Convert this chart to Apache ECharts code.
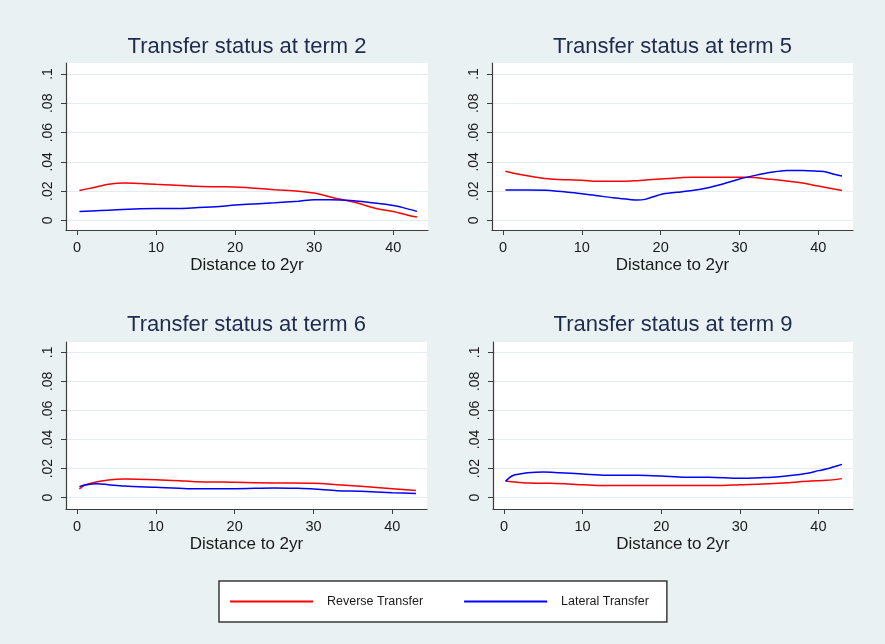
<!DOCTYPE html>
<html>
<head>
<meta charset="utf-8">
<script src="https://cdn.jsdelivr.net/npm/echarts@6/dist/echarts.min.js"></script>
<style>
  html, body { margin: 0; padding: 0; background: #ffffff; }
  #chart { width: 885px; height: 644px; }
</style>
</head>
<body>
<div id="chart"></div>
<script>
// ---- data ----
const panelTitles = ['Transfer status at term 2', 'Transfer status at term 5', 'Transfer status at term 6', 'Transfer status at term 9'];
const seriesNames = ['Reverse Transfer', 'Lateral Transfer'];
const xAxisTitle = 'Distance to 2yr';
const xTicks = [0, 10, 20, 30, 40];
const yTicks = [0, 0.02, 0.04, 0.06, 0.08, 0.1];
const yTickLabels = ['0', '.02', '.04', '.06', '.08', '.1'];

const reverseT2 = [[0.3,0.0205],[2,0.0224],[4,0.0247],[6,0.0255],[8,0.0252],[10,0.0247],[12,0.0242],[15,0.0233],[18,0.0230],[20,0.0228],[22,0.0222],[25,0.0210],[28,0.0200],[30,0.0187],[33,0.0148],[35,0.0126],[38,0.0080],[40,0.0062],[42,0.0034],[43,0.0023]];
const lateralT2 = [[0.3,0.0062],[3,0.0068],[5,0.0073],[8,0.0080],[10,0.0082],[13,0.0082],[15,0.0087],[18,0.0096],[20,0.0105],[23,0.0115],[25,0.0121],[28,0.0132],[30,0.0142],[32,0.0142],[35,0.0135],[37,0.0123],[40,0.0103],[41,0.0091],[43,0.0062]];

const reverseT5 = [[0.3,0.0336],[2,0.0315],[4,0.0297],[6,0.0283],[10,0.0274],[12,0.0267],[15,0.0267],[17,0.0272],[20,0.0283],[24,0.0295],[28,0.0295],[31,0.0295],[34,0.0281],[36,0.0269],[38,0.0256],[40,0.0235],[43,0.0205]];
const lateralT5 = [[0.3,0.0208],[3,0.0208],[6,0.0205],[8,0.0194],[10,0.0183],[12,0.0169],[14,0.0155],[16,0.0144],[17,0.0139],[18,0.0144],[20,0.0178],[22,0.0192],[24,0.0205],[26,0.0224],[28,0.0251],[30,0.0283],[32,0.0308],[34,0.0329],[36,0.0342],[38,0.0342],[40,0.0336],[41,0.0331],[42,0.0315],[43,0.0304]];

const reverseT6 = [[0.3,0.0060],[1,0.0087],[2,0.0103],[4,0.0122],[6,0.0128],[10,0.0124],[13,0.0117],[15,0.0110],[20,0.0106],[25,0.0101],[30,0.0099],[33,0.0089],[36,0.0078],[40,0.0062],[43,0.0050]];
const lateralT6 = [[0.3,0.0076],[1,0.0087],[2.5,0.0096],[4,0.0089],[6,0.0080],[10,0.0071],[14,0.0062],[20,0.0062],[25,0.0067],[28,0.0064],[30,0.0060],[33,0.0048],[36,0.0044],[40,0.0034],[43,0.0028]];

const reverseT9 = [[0.2,0.0115],[1,0.0110],[3,0.0101],[6,0.0099],[10,0.0089],[12.5,0.0083],[20,0.0083],[27,0.0083],[30,0.0089],[33,0.0094],[36,0.0103],[39,0.0115],[41,0.0119],[43,0.0131]];
const lateralT9 = [[0.2,0.0112],[1,0.0149],[2,0.0163],[3,0.0172],[5,0.0177],[7,0.0172],[10,0.0163],[13,0.0154],[17,0.0154],[20,0.0149],[23,0.0140],[26,0.0140],[30,0.0133],[33,0.0138],[35,0.0144],[37,0.0156],[39,0.0172],[40,0.0186],[41,0.0197],[42,0.0213],[43,0.0229]];

const reverseData = [reverseT2, reverseT5, reverseT6, reverseT9];
const lateralData = [lateralT2, lateralT5, lateralT6, lateralT9];

// ---- layout ----
const FONT = 'Liberation Sans, Arial, Helvetica, sans-serif';
const grids = [
  { left: 66, top: 63, width: 362, height: 167, ymin: -0.0065, ymax: 0.1075, titleY: 47 },
  { left: 492, top: 63, width: 361, height: 167, ymin: -0.0065, ymax: 0.1075, titleY: 47 },
  { left: 66, top: 342, width: 361, height: 167, ymin: -0.0078, ymax: 0.1071, titleY: 325 },
  { left: 493, top: 342, width: 360, height: 167, ymin: -0.0078, ymax: 0.1071, titleY: 325 }
];
const axisColor = '#3c3c3c';
const gridColor = '#E4EDEF';

const option = {
  backgroundColor: '#EAF1F3',
  animation: false,
  grid: grids.map(g => ({ left: g.left, top: g.top, width: g.width, height: g.height, show: true, backgroundColor: '#ffffff', borderWidth: 0 })),
  xAxis: grids.map((g, i) => ({
    type: 'value', gridIndex: i, min: -1.4, max: 44.4,
    name: xAxisTitle, nameLocation: 'middle', nameGap: 27,
    nameTextStyle: { fontFamily: FONT, fontSize: 17, color: '#1a1a1a' },
    axisLine: { show: true, onZero: false, lineStyle: { color: axisColor, width: 1.2 } },
    axisTick: { show: true, length: 5, customValues: xTicks, lineStyle: { color: axisColor, width: 1 } },
    axisLabel: { customValues: xTicks, margin: 10, fontFamily: FONT, fontSize: 14.5, color: '#1a1a1a' },
    splitLine: { show: false }
  })),
  yAxis: grids.map((g, i) => ({
    type: 'value', gridIndex: i, min: g.ymin, max: g.ymax,
    axisLine: { show: true, onZero: false, lineStyle: { color: axisColor, width: 1.2 } },
    axisTick: { show: true, length: 5, customValues: yTicks, lineStyle: { color: axisColor, width: 1 } },
    axisLabel: {
      customValues: yTicks, rotate: 90, margin: 11, fontFamily: FONT, fontSize: 14, color: '#1a1a1a',
      formatter: v => { const k = yTicks.findIndex(t => Math.abs(t - v) < 1e-9); return k >= 0 ? yTickLabels[k] : ''; }
    },
    splitLine: { show: true, lineStyle: { color: gridColor, width: 1 } }
  })),
  graphic: grids.map((g, i) => ({
    type: 'text', x: g.left + g.width / 2, y: g.titleY,
    style: { text: panelTitles[i], align: 'center', verticalAlign: 'middle', font: '22px ' + FONT, fill: '#1E2B4C' }
  })),
  legend: {
    left: 219, top: 581,
    padding: [14, 18, 14, 11],
    backgroundColor: '#ffffff', borderColor: '#3a3a3a', borderWidth: 1.5, borderRadius: 0,
    icon: 'rect', itemWidth: 83, itemHeight: 2, itemGap: 41,
    textStyle: { fontFamily: FONT, fontSize: 12.5, color: '#1a1a1a', padding: [0, 0, 0, 9] },
    data: seriesNames
  },
  series: []
};

grids.forEach((g, i) => {
  option.series.push({
    name: seriesNames[0], type: 'line', xAxisIndex: i, yAxisIndex: i,
    data: reverseData[i], showSymbol: false, smooth: 0.3,
    lineStyle: { color: '#ff0000', width: 1.5 }, itemStyle: { color: '#ff0000' }
  });
  option.series.push({
    name: seriesNames[1], type: 'line', xAxisIndex: i, yAxisIndex: i,
    data: lateralData[i], showSymbol: false, smooth: 0.3,
    lineStyle: { color: '#0000ff', width: 1.5 }, itemStyle: { color: '#0000ff' }
  });
});

const chart = echarts.init(document.getElementById('chart'), null, { renderer: 'canvas' });
chart.setOption(option);
</script>
</body>
</html>
